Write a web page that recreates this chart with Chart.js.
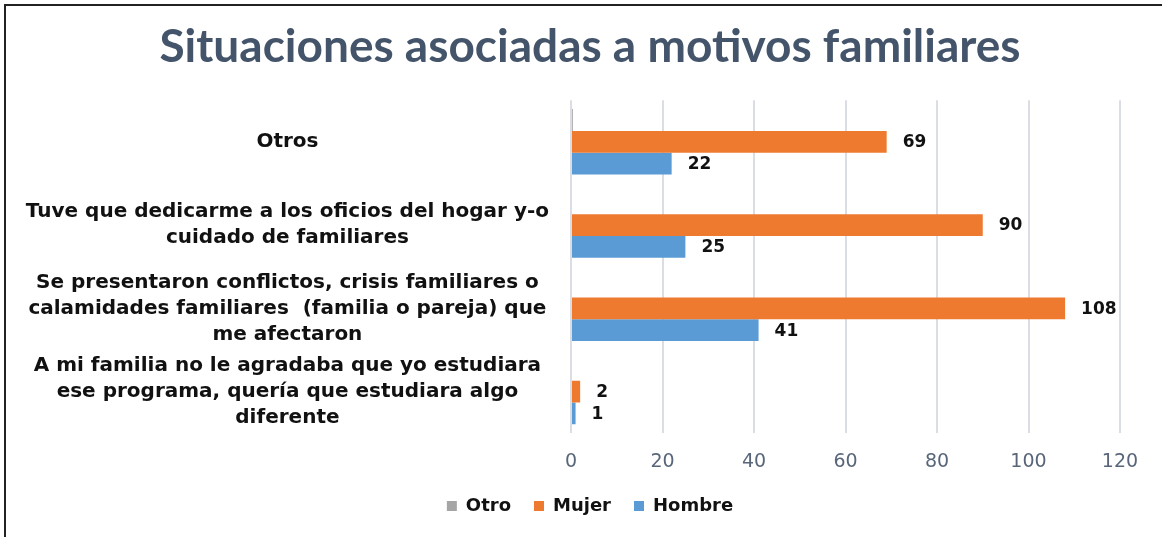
<!DOCTYPE html>
<html>
<head>
<meta charset="utf-8">
<script src="https://cdn.jsdelivr.net/npm/chart.js@4.4.1/dist/chart.umd.min.js"></script>
<style>
  html, body { margin: 0; padding: 0; background: #fff; }
  #wrap { position: relative; width: 1162px; height: 537px; }
  #frame { position: absolute; left: 4px; top: 4px; right: 0; bottom: 0;
           border-top: 2px solid #222; border-left: 2px solid #222; pointer-events: none; }
</style>
</head>
<body>
<div id="wrap">
  <canvas id="chart" width="1162" height="537"></canvas>
  <div id="frame"></div>
</div>
<script>
// Categories, top to bottom
const categories = [
  ["Otros"],
  ["Tuve que dedicarme a los oficios del hogar y-o", "cuidado de familiares"],
  ["Se presentaron conflictos, crisis familiares o", "calamidades familiares  (familia o pareja) que", "me afectaron"],
  ["A mi familia no le agradaba que yo estudiara", "ese programa, quería que estudiara algo", "diferente"]
];

// Series values
const otroValues = [0.4, 0, 0, 0];
const mujerValues = [69, 90, 108, 2];
const hombreValues = [22, 25, 41, 1];

// Axis ticks
const xMin = 0;
const xMax = 120;
const xStep = 20;

// draws the value next to the end of each bar
const valueLabels = {
  id: "valueLabels",
  afterDatasetsDraw(chart) {
    const ctx = chart.ctx;
    ctx.save();
    ctx.font = "bold 17px 'DejaVu Sans'";
    ctx.fillStyle = "#111";
    ctx.textAlign = "left";
    ctx.textBaseline = "middle";
    chart.data.datasets.forEach((ds, i) => {
      if (ds.showValues === false) return;
      const meta = chart.getDatasetMeta(i);
      if (meta.hidden) return;
      meta.data.forEach((bar, j) => {
        ctx.fillText(String(ds.data[j]), bar.x + 16, bar.y + 1);
      });
    });
    ctx.restore();
  }
};

// nudge title and legend a bit right (and legend up), like the original
const nudgeBoxes = {
  id: "nudgeBoxes",
  afterLayout(chart) {
    if (chart.titleBlock) {
      chart.titleBlock.left += 19;
      chart.titleBlock.right += 19;
    }
    if (chart.legend) {
      chart.legend.left += 19;
      chart.legend.right += 19;
      chart.legend.top -= 16;
      chart.legend.bottom -= 16;
    }
  }
};

new Chart(document.getElementById("chart"), {
  type: "bar",
  data: {
    labels: categories,
    datasets: [
      { label: "Otro", data: otroValues, backgroundColor: "#A5A5A5", showValues: false },
      { label: "Mujer", data: mujerValues, backgroundColor: "#EE7A30" },
      { label: "Hombre", data: hombreValues, backgroundColor: "#5B9BD5" }
    ]
  },
  options: {
    responsive: false,
    animation: false,
    indexAxis: "y",
    categoryPercentage: 0.786,
    barPercentage: 1,
    layout: { padding: { left: 22, right: 42, top: 0, bottom: -4 } },
    plugins: {
      title: {
        display: true,
        text: "Situaciones asociadas a motivos familiares",
        color: "#44546A",
        font: { family: "Lato", size: 46, weight: "bold", lineHeight: 1.2 },
        padding: { top: 20, bottom: 25 }
      },
      legend: {
        position: "bottom",
        labels: {
          boxWidth: 10,
          boxHeight: 10,
          color: "#111",
          padding: 23,
          font: { family: "'DejaVu Sans'", size: 18, weight: "bold" }
        }
      },
      tooltip: { enabled: false }
    },
    scales: {
      x: {
        min: xMin,
        max: xMax,
        ticks: { stepSize: xStep, color: "#59667A", padding: 17, font: { family: "'DejaVu Sans'", size: 19 } },
        grid: { color: "#DADEE4", lineWidth: 2, drawTicks: false },
        border: { display: false }
      },
      y: {
        ticks: {
          crossAlign: "center",
          color: "#111",
          padding: 22,
          font: { family: "'DejaVu Sans'", size: 20, weight: "bold", lineHeight: 1.3 }
        },
        grid: { display: false, drawTicks: false },
        border: { display: false }
      }
    }
  },
  plugins: [valueLabels, nudgeBoxes]
});
</script>
</body>
</html>
